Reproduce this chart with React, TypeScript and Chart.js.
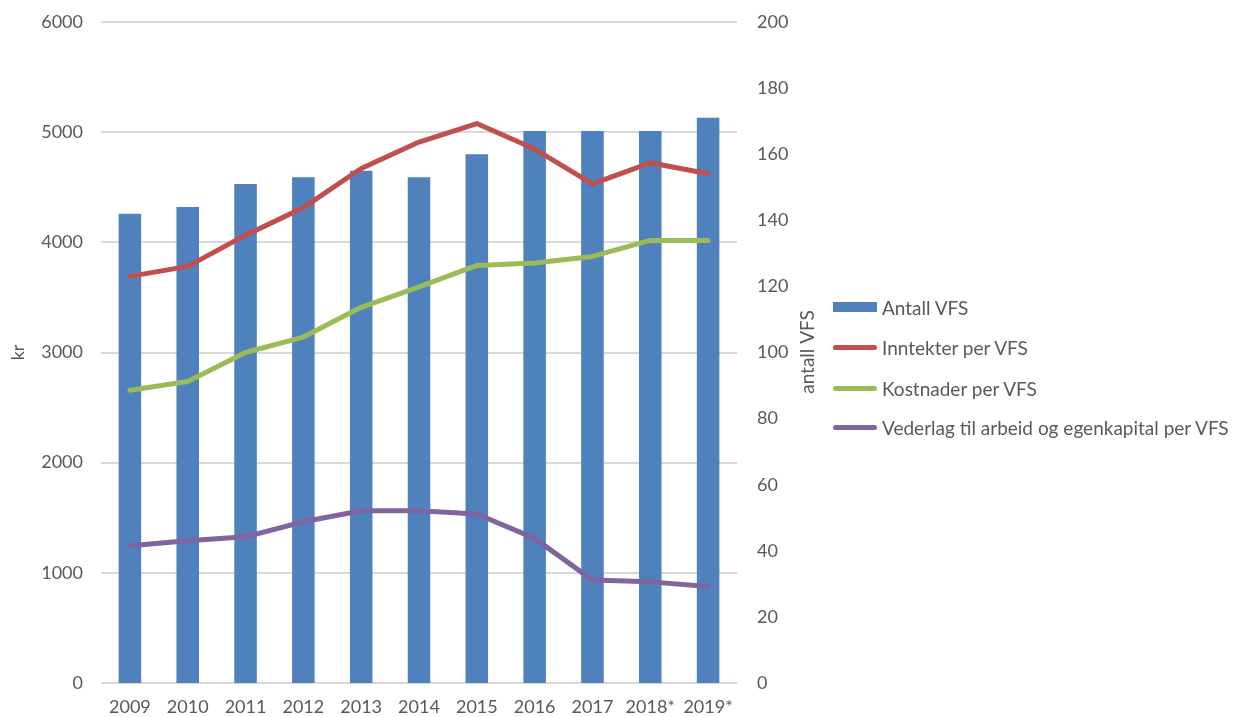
import React, { useEffect, useRef } from "react";
import { Chart, registerables } from "chart.js";

Chart.register(...registerables);

const categories = ["2009", "2010", "2011", "2012", "2013", "2014", "2015", "2016", "2017", "2018*", "2019*"];
const antallVFS = [142, 144, 151, 153, 155, 153, 160, 167, 167, 167, 171];
const inntekter = [3691, 3782, 4065, 4315, 4670, 4910, 5078, 4847, 4530, 4722, 4622];
const kostnader = [2658, 2736, 3000, 3140, 3410, 3595, 3790, 3812, 3872, 4017, 4017];
const vederlag = [1245, 1291, 1327, 1464, 1564, 1564, 1534, 1313, 934, 918, 876];

const leftTicks = [0, 1000, 2000, 3000, 4000, 5000, 6000];
const rightTicks = [0, 20, 40, 60, 80, 100, 120, 140, 160, 180, 200];

const seriesNames = ["Antall VFS", "Inntekter per VFS", "Kostnader per VFS", "Vederlag til arbeid og egenkapital per VFS"];
const colors = ["#4f81bd", "#c0504d", "#9bbb59", "#8064a2"];

const FONT = "Lato, 'Open Sans', sans-serif";
const TEXT = "#595959";

const rightTitlePlugin = {
  id: "rightTitle",
  afterDraw(chart: any) {
    const ctx = chart.ctx;
    ctx.save();
    ctx.translate(808, 352);
    ctx.rotate(-Math.PI / 2);
    ctx.font = `19px ${FONT}`;
    ctx.fillStyle = TEXT;
    ctx.textAlign = "center";
    ctx.textBaseline = "middle";
    ctx.fillText("antall VFS", 0, 0);
    ctx.restore();
  },
};

const zeroPad = (s: any) => {
  s.paddingTop = 0;
  s.paddingBottom = 0;
};

export default function App() {
  const ref = useRef<HTMLCanvasElement>(null);

  useEffect(() => {
    if (!ref.current) return;
    const lineDs = (label: string, data: number[], color: string) => ({
      type: "line" as const,
      label,
      data,
      yAxisID: "y",
      borderColor: color,
      backgroundColor: color,
      borderWidth: 5,
      pointRadius: 0,
      tension: 0,
      borderJoinStyle: "round" as const,
      borderCapStyle: "round" as const,
      order: 0,
    });
    const chart = new Chart(ref.current, {
      type: "bar",
      data: {
        labels: categories,
        datasets: [
          {
            type: "bar",
            label: seriesNames[0],
            data: antallVFS,
            yAxisID: "y1",
            backgroundColor: colors[0],
            barPercentage: 0.39,
            categoryPercentage: 1,
            order: 1,
          } as any,
          lineDs(seriesNames[1], inntekter, colors[1]),
          lineDs(seriesNames[2], kostnader, colors[2]),
          lineDs(seriesNames[3], vederlag, colors[3]),
        ],
      },
      options: {
        responsive: false,
        animation: false,
        layout: { padding: { top: 22, right: 418, bottom: 0, left: 0 } },
        plugins: {
          legend: { display: false },
          tooltip: { enabled: false },
        },
        scales: {
          x: {
            grid: { display: false, drawTicks: false },
            border: { display: false },
            ticks: { color: TEXT, font: { family: FONT, size: 18 }, padding: 13, maxRotation: 0, autoSkip: false },
            afterFit: (s: any) => { s.height = 34; s.paddingLeft = 0; s.paddingRight = 0; },
          },
          y: {
            position: "left",
            min: 0,
            max: 6000,
            afterBuildTicks: (s: any) => { s.ticks = leftTicks.map((v) => ({ value: v })); },
            grid: { color: "#d9d9d9", lineWidth: 2, drawTicks: false },
            border: { display: false },
            ticks: { color: TEXT, font: { family: FONT, size: 18 }, padding: 18, callback: (v: any) => String(v) },
            title: { display: true, text: "kr", color: TEXT, font: { family: FONT, size: 18 }, padding: { top: 7, bottom: 0 } },
            afterFit: (s: any) => { s.width = 101; zeroPad(s); },
          },
          y1: {
            position: "right",
            min: 0,
            max: 200,
            afterBuildTicks: (s: any) => { s.ticks = rightTicks.map((v) => ({ value: v })); },
            grid: { display: false, drawTicks: false },
            border: { display: false },
            ticks: { color: TEXT, font: { family: FONT, size: 18 }, padding: 20, callback: (v: any) => String(v) },
            afterFit: (s: any) => { s.width = 85; zeroPad(s); },
          },
        },
      } as any,
      plugins: [rightTitlePlugin],
    });
    return () => chart.destroy();
  }, []);

  const legendTops = [307, 347, 388, 427];

  return (
    <div style={{ position: "absolute", left: 0, top: 0, width: 1240, height: 717, background: "#fff" }}>
      <canvas ref={ref} width={1240} height={717} style={{ display: "block" }} />
      {seriesNames.map((name, i) => (
        <div
          key={name}
          style={{
            position: "absolute",
            left: 833,
            top: legendTops[i] - 12,
            height: 24,
            display: "flex",
            alignItems: "center",
            fontFamily: FONT,
            fontSize: 19,
            color: TEXT,
            whiteSpace: "nowrap",
          }}
        >
          <span
            style={{
              display: "inline-block",
              width: 44,
              height: i === 0 ? 10 : 5,
              borderRadius: i === 0 ? 0 : 3,
              background: colors[i],
              marginRight: 5,
            }}
          />
          <span>{name}</span>
        </div>
      ))}
    </div>
  );
}
